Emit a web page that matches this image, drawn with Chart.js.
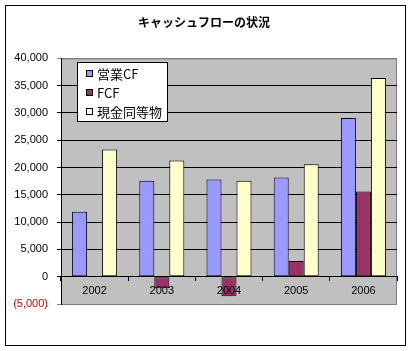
<!DOCTYPE html>
<html>
<head>
<meta charset="utf-8">
<script src="https://cdn.jsdelivr.net/npm/chart.js@4/dist/chart.umd.min.js"></script>
<style>
  html, body { margin: 0; padding: 0; background: #fff; }
  #wrap { position: absolute; left: 0; top: 0; width: 412px; height: 351px; }
</style>
</head>
<body>
<div id="wrap"><canvas id="chart" width="412" height="351"></canvas></div>
<script>
// values
const years = ['2002', '2003', '2004', '2005', '2006'];
const operatingCF = [11900, 17600, 17800, 18200, 29100];
const freeCF = [null, -2100, -3600, 2900, 15600];
const cashEquivalents = [23300, 21300, 17600, 20600, 36400];
const seriesLabels = ['営業CF', 'FCF', '現金同等物'];
const seriesColors = ['#9999FF', '#993366', '#FFFFCC'];

const jpFont = "'Noto Sans CJK JP', sans-serif";
const numFont = "'Liberation Sans', Arial, sans-serif";

// gray plot area + outer frame
const frame = {
  id: 'frame',
  beforeDraw(chart) {
    const { ctx, chartArea: a } = chart;
    ctx.save();
    ctx.fillStyle = '#fff';
    ctx.fillRect(0, 0, chart.width, chart.height);
    ctx.strokeStyle = '#000';
    ctx.lineWidth = 1;
    ctx.strokeRect(5.5, 5.5, 400, 340);
    ctx.fillStyle = '#C0C0C0';
    ctx.fillRect(a.left, a.top, a.right - a.left, a.bottom - a.top);
    ctx.strokeStyle = '#808080';
    ctx.strokeRect(a.left + 0.5, a.top + 0.5, a.right - a.left - 1, a.bottom - a.top);
    ctx.restore();
  }
};

// legend box inside the plot area
const boxLegend = {
  id: 'boxLegend',
  afterDraw(chart) {
    const { ctx } = chart;
    const x = 77, y = 62, w = 90, h = 59;
    ctx.save();
    ctx.fillStyle = '#fff';
    ctx.fillRect(x, y, w, h);
    ctx.strokeStyle = '#000';
    ctx.lineWidth = 1;
    ctx.strokeRect(x + 0.5, y + 0.5, w, h);
    ctx.font = '13px ' + jpFont;
    ctx.textBaseline = 'middle';
    chart.data.datasets.forEach((ds, i) => {
      const cy = y + 11 + i * 19;
      ctx.fillStyle = ds.backgroundColor;
      ctx.fillRect(86, cy - 3, 7, 7);
      ctx.strokeStyle = '#000';
      ctx.strokeRect(86.5, cy - 2.5, 6, 6);
      ctx.fillStyle = '#000';
      ctx.fillText(ds.label, 97, cy + 1);
    });
    ctx.restore();
  }
};

const datasets = [operatingCF, freeCF, cashEquivalents].map((values, i) => ({
  label: seriesLabels[i],
  data: values,
  backgroundColor: seriesColors[i],
  borderColor: '#000',
  borderWidth: 1,
  borderSkipped: false,
  categoryPercentage: 0.67,
  barPercentage: 1.0
}));

new Chart(document.getElementById('chart'), {
  type: 'bar',
  data: { labels: years, datasets },
  options: {
    responsive: false,
    devicePixelRatio: 1,
    animation: false,
    layout: { padding: { left: 11, right: 15, top: 0, bottom: 47 } },
    plugins: {
      legend: { display: false },
      tooltip: { enabled: false },
      title: {
        display: true,
        text: 'キャッシュフローの状況',
        color: '#000',
        font: { family: jpFont, size: 12, weight: 'bold' },
        padding: { top: 15, bottom: 29 }
      }
    },
    scales: {
      x: {
        position: { y: 0 },
        grid: { drawOnChartArea: false, drawTicks: true, tickLength: 4, color: '#000', z: 1 },
        border: { display: true, color: '#000', width: 1, z: 1 },
        ticks: {
          z: 1,
          color: '#000',
          padding: 4,
          font: { family: numFont, size: 11 }
        }
      },
      y: {
        min: -5000,
        max: 40000,
        afterFit(scale) { scale.width = 50; },
        grid: {
          color: (c) => (c.tick && (c.tick.value === 40000 || c.tick.value === -5000)) ? '#808080' : '#000',
          tickLength: 4,
          lineWidth: 1
        },
        border: { display: true, color: '#000', width: 1 },
        ticks: {
          stepSize: 5000,
          padding: 9,
          font: { family: numFont, size: 11 },
          color: (c) => (c.tick && c.tick.value < 0) ? '#CC0000' : '#000',
          callback: (v) => v < 0 ? '(' + Math.abs(v).toLocaleString('en-US') + ')' : v.toLocaleString('en-US')
        }
      }
    }
  },
  plugins: [frame, boxLegend]
});
</script>
</body>
</html>
